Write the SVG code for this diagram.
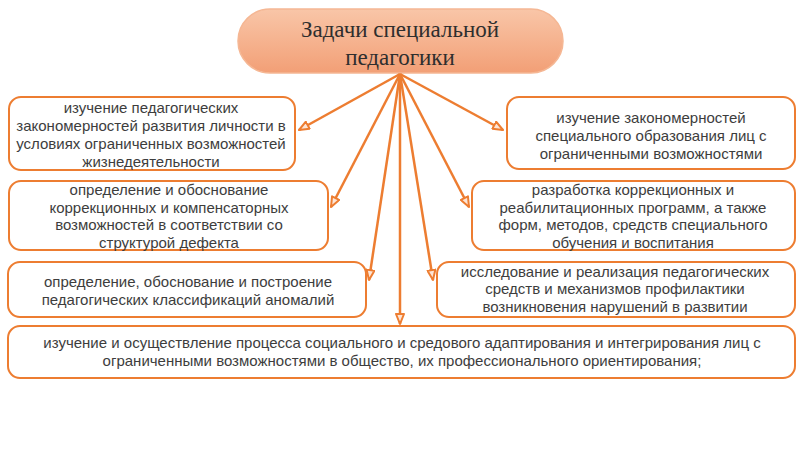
<svg xmlns="http://www.w3.org/2000/svg" width="800" height="450" viewBox="0 0 800 450">
<defs>
<linearGradient id="pill" x1="0" y1="0" x2="0" y2="1">
<stop offset="0" stop-color="#f9c6a8"/>
<stop offset="1" stop-color="#f29f76"/>
</linearGradient>
<marker id="ah" viewBox="-1 -1 12 10" refX="10" refY="4" markerWidth="12" markerHeight="10" markerUnits="userSpaceOnUse" orient="auto">
<path d="M0,0 L10,4 L0,8 Z" fill="#fde5d6" stroke="#ED7D31" stroke-width="2" stroke-linejoin="round"/>
</marker>
<style>
.box{fill:#fff;stroke:#ED7D31;stroke-width:2}
.t{font-family:"Liberation Sans",Arial,sans-serif;font-size:15px;fill:#3d3d3d;text-anchor:middle}
.title{font-family:"Liberation Serif","Times New Roman",serif;font-size:23px;fill:#2e2e2e;text-anchor:middle}
.c{stroke:#ED7D31;stroke-width:2.5;fill:none;marker-end:url(#ah)}
</style>
</defs>
<rect width="800" height="450" fill="#fff"/>
<g id="title">
<rect x="238" y="9" width="325" height="64" rx="32" ry="32" fill="url(#pill)" stroke="#f5b794" stroke-width="1.5"/>
<text class="title" x="400" y="37">Задачи специальной</text>
<text class="title" x="400" y="65">педагогики</text>
</g>
<g id="connectors">
<line class="c" x1="400" y1="74" x2="299" y2="130"/>
<line class="c" x1="400" y1="74" x2="331" y2="207"/>
<line class="c" x1="400" y1="74" x2="369" y2="280"/>
<line class="c" x1="400" y1="74" x2="400" y2="324"/>
<line class="c" x1="400" y1="74" x2="433" y2="280"/>
<line class="c" x1="400" y1="74" x2="469" y2="207"/>
<line class="c" x1="400" y1="74" x2="503" y2="130"/>
</g>
<g id="node-l1">
<rect class="box" x="9" y="97" width="286" height="73" rx="12"/>
<text class="t" x="151" y="113">изучение педагогических</text>
<text class="t" x="151" y="131">закономерностей развития личности в</text>
<text class="t" x="151" y="149">условиях ограниченных возможностей</text>
<text class="t" x="151" y="167">жизнедеятельности</text>
</g>
<g id="node-l2">
<rect class="box" x="9" y="181" width="319" height="69" rx="12"/>
<text class="t" x="169" y="195">определение и обоснование</text>
<text class="t" x="169" y="213">коррекционных и компенсаторных</text>
<text class="t" x="169" y="230">возможностей в соответствии со</text>
<text class="t" x="169" y="248">структурой дефекта</text>
</g>
<g id="node-l3">
<rect class="box" x="8" y="262" width="358" height="55" rx="12"/>
<text class="t" x="188" y="287">определение, обоснование и построение</text>
<text class="t" x="188" y="305">педагогических классификаций аномалий</text>
</g>
<g id="node-r1">
<rect class="box" x="507" y="97" width="288" height="72" rx="12"/>
<text class="t" x="651" y="123">изучение закономерностей</text>
<text class="t" x="651" y="141">специального образования лиц с</text>
<text class="t" x="651" y="159">ограниченными возможностями</text>
</g>
<g id="node-r2">
<rect class="box" x="472" y="181" width="323" height="69" rx="12"/>
<text class="t" x="633" y="195">разработка коррекционных и</text>
<text class="t" x="633" y="213">реабилитационных программ, а также</text>
<text class="t" x="633" y="230">форм, методов, средств специального</text>
<text class="t" x="633" y="248">обучения и воспитания</text>
</g>
<g id="node-r3">
<rect class="box" x="437" y="262" width="358" height="55" rx="12"/>
<text class="t" x="615" y="277">исследование и реализация педагогических</text>
<text class="t" x="615" y="294">средств и механизмов профилактики</text>
<text class="t" x="615" y="312">возникновения нарушений в развитии</text>
</g>
<g id="node-bottom">
<rect class="box" x="8" y="326" width="787" height="52" rx="12"/>
<text class="t" x="402" y="348">изучение и осуществление процесса социального и средового адаптирования и интегрирования лиц с</text>
<text class="t" x="402" y="366">ограниченными возможностями в общество, их профессионального ориентирования;</text>
</g>
</svg>
